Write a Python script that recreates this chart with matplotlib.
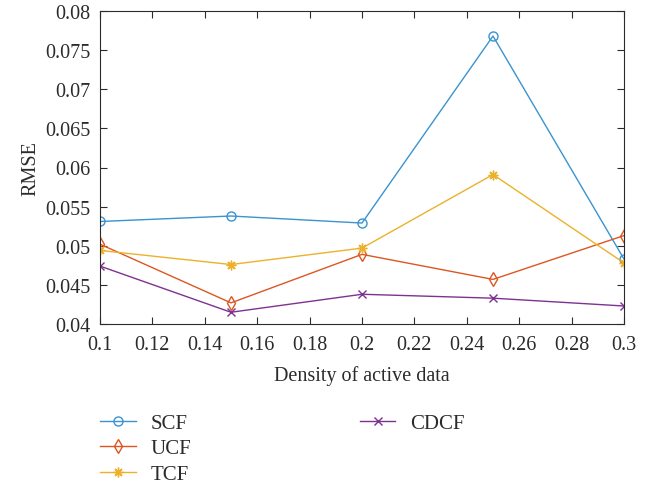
import matplotlib
matplotlib.use("Agg")
import matplotlib.pyplot as plt
from matplotlib.lines import Line2D

plt.rcParams['font.family'] = ['Liberation Serif', 'DejaVu Serif']

density = [0.1, 0.15, 0.2, 0.25, 0.3]
scf = [0.0531, 0.0538, 0.0529, 0.0768, 0.0483]
ucf = [0.0502, 0.0427, 0.0489, 0.0457, 0.0513]
tcf = [0.0494, 0.0476, 0.0497, 0.0591, 0.0478]
cdcf = [0.0474, 0.0415, 0.0438, 0.0433, 0.0423]

xticks = [0.1, 0.12, 0.14, 0.16, 0.18, 0.2, 0.22, 0.24, 0.26, 0.28, 0.3]
xtick_labels = ['0.1', '0.12', '0.14', '0.16', '0.18', '0.2', '0.22', '0.24', '0.26', '0.28', '0.3']
yticks = [0.04, 0.045, 0.05, 0.055, 0.06, 0.065, 0.07, 0.075, 0.08]
ytick_labels = ['0.04', '0.045', '0.05', '0.055', '0.06', '0.065', '0.07', '0.075', '0.08']

fig = plt.figure(figsize=(6.49, 4.85), dpi=100)
ax = fig.add_axes([100/649, 1 - 325/485, (624-100)/649, (325-12)/485])

c_scf = '#3b93cf'
c_ucf = '#dd5622'
c_tcf = '#ecb12a'
c_cdcf = '#7e3290'
txt = '#2b2b2b'

l1, = ax.plot(density, scf, '-o', color=c_scf, lw=1, ms=6.5, mfc='none', mew=1, label='SCF')
l2, = ax.plot(density, ucf, '-d', color=c_ucf, lw=1, ms=7, mfc='none', mew=1, label='UCF')
l3, = ax.plot(density, tcf, '-', marker=(8, 2, 0), color=c_tcf, lw=1, ms=7, mew=1, label='TCF')
l4, = ax.plot(density, cdcf, '-x', color=c_cdcf, lw=1, ms=5.5, mew=1, label='CDCF')

ax.set_xlim(0.1, 0.3)
ax.set_ylim(0.04, 0.08)
ax.set_xticks(xticks)
ax.set_xticklabels(xtick_labels)
ax.set_yticks(yticks)
ax.set_yticklabels(ytick_labels)
ax.tick_params(direction='in', top=True, right=True, labelsize=14.5, length=5, colors=txt)
ax.tick_params(axis='x', pad=8)
ax.tick_params(axis='y', pad=7)
for s in ax.spines.values():
    s.set_color(txt)
    s.set_linewidth(0.8)
ax.set_xlabel('Density of active data', fontsize=14.5, color=txt, labelpad=8)
ax.set_ylabel('RMSE', fontsize=14.5, color=txt, labelpad=3)

blank = Line2D([], [], color='none')
leg = fig.legend(handles=[l1, l2, l3, l4, blank, blank],
                 labels=['SCF', 'UCF', 'TCF', 'CDCF', '', ''],
                 ncol=2, loc='upper left',
                 bbox_to_anchor=(90/649, 1 - 404/485), frameon=False, borderpad=0,
                 fontsize=15, columnspacing=8.1, handlelength=1.7, labelspacing=0.28,
                 handletextpad=0.7)
for t in leg.get_texts():
    t.set_color(txt)

fig.savefig('out.png', dpi=100)
